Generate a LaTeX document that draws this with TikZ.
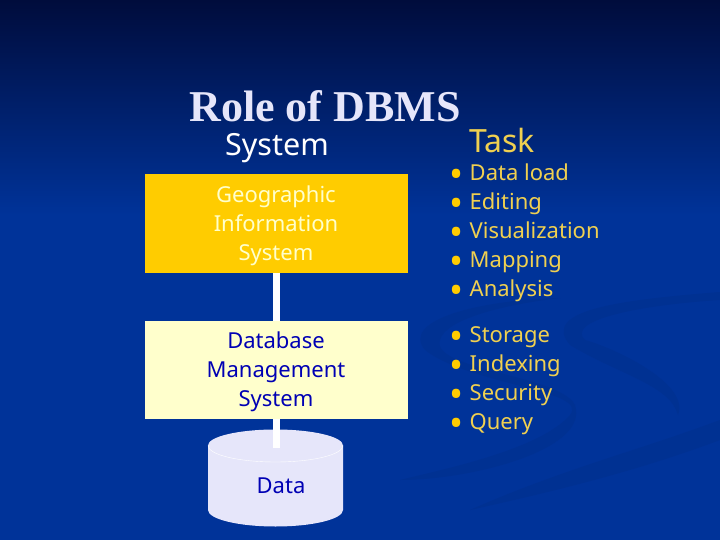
\documentclass[tikz,border=0pt]{standalone}
\usepackage{fontspec}
\setmainfont{Noto Sans}
\newfontfamily\titlefont{Liberation Serif}
\usetikzlibrary{positioning,calc}
\definecolor{slidetop}{HTML}{000C3C}
\definecolor{slideblue}{HTML}{003399}
\definecolor{swoosh}{HTML}{003192}
\definecolor{sysgold}{HTML}{FFCC00}
\definecolor{syscream}{HTML}{FFFFCC}
\definecolor{sysink}{HTML}{0000B4}
\definecolor{lilac}{HTML}{E6E6FA}
\definecolor{taskgold}{HTML}{F0D050}
\newcommand{\bul}{\makebox[20pt][l]{\textcolor{sysgold}{\raisebox{-7pt}{\scalebox{1.7}{\textbullet}}}}}
\begin{document}
\begin{tikzpicture}[x=1pt,y=-1pt,
head/.style={inner sep=0pt},
sysbox/.style={minimum width=263pt,minimum height=98pt,inner sep=0pt},
systext/.style={inner sep=0pt,align=center,font=\fontsize{22}{29}\selectfont},
tasks/.style={anchor=north west,align=left,inner sep=0pt,text=taskgold,
font=\fontsize{22}{29}\selectfont},
bar/.style={draw=white,line width=7pt}
]
\useasboundingbox (0,0) rectangle (720,540);
\fill[slideblue] (0,0) rectangle (720,540);
\shade[top color=slidetop,bottom color=slideblue] (0,0) rectangle (720,215);
% faint swooshes
\fill[swoosh] (720,420) .. controls (640,450) and (560,470) .. (470,510)
.. controls (560,490) and (640,470) .. (720,440) -- cycle;
\fill[swoosh] (720,292) .. controls (620,300) and (540,310) .. (570,345)
.. controls (620,375) and (670,385) .. (678,415) .. controls (690,385) and (620,350) .. (585,340)
.. controls (565,320) and (640,305) .. (720,300) -- cycle;
\fill[swoosh] (560,298) .. controls (480,300) and (400,320) .. (425,350)
.. controls (470,385) and (590,390) .. (570,415) .. controls (540,450) and (440,470) .. (400,480)
.. controls (470,480) and (590,450) .. (575,405) .. controls (560,375) and (430,370) .. (440,340)
.. controls (445,320) and (500,305) .. (560,298) -- cycle;
\node[font=\titlefont\fontsize{44}{50}\selectfont\bfseries,text=lilac,inner sep=0pt] (title) at (325,106) {Role of DBMS};
\node[head,text=white,font=\fontsize{30.5}{34}\selectfont] (syshead) at (277,148) {System};
\node[head,text=taskgold,anchor=west,font=\fontsize{32}{36}\selectfont] (taskhead) at (469,141) {Task};
\node[sysbox,fill=sysgold] (gis) at (276,223.5) {};
\node[sysbox,fill=syscream,below=48pt of gis] (dbms) {};
\node[systext,text=syscream] (gistext) at ([yshift=-2pt]gis.center) {Geographic\\Information\\System};
\node[systext,text=sysink] (dbmstext) at ([yshift=-1.5pt]dbms.center) {Database\\Management\\System};
% the drum
\fill[lilac] (208,445.5) arc[start angle=180,end angle=0,x radius=67.5,y radius=-16]
-- (343,510) arc[start angle=0,end angle=-180,x radius=67.5,y radius=-16.5] -- cycle;
\draw[white,thin] (208,445.5) arc[start angle=180,end angle=360,x radius=67.5,y radius=-16.5];
\node[systext,text=sysink] (data) at (281,486) {Data};
\coordinate (dbend) at (276,448);
\draw[bar] (gis) -- (dbms);
\draw[bar] (dbms.south) -- (dbend);
\node[tasks] (gistasks) at (449.5,164) {\bul Data load\\\bul Editing\\\bul Visualization\\\bul Mapping\\\bul Analysis};
\node[tasks] (dbtasks) at (449.5,326.5) {\bul Storage\\\bul Indexing\\\bul Security\\\bul Query};
\end{tikzpicture}
\end{document}
